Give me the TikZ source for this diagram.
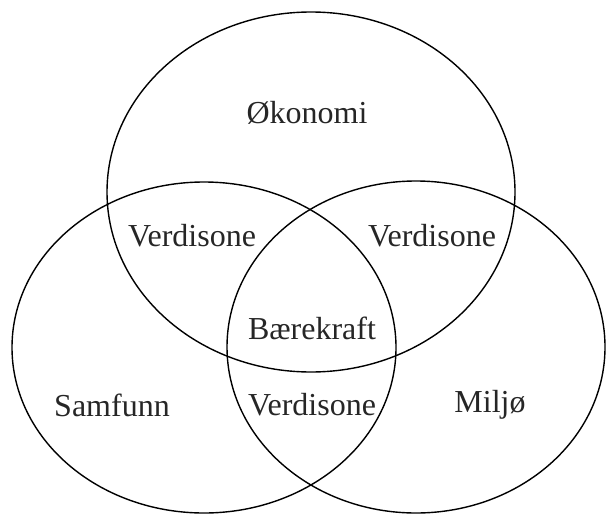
\documentclass[tikz,border=0pt]{standalone}
\usepackage{fontspec}
\setmainfont{Liberation Serif}
\begin{document}
\begin{tikzpicture}[x=1pt,y=-1pt,
  ring/.style={draw=black,line width=1.4pt},
  lbl/.style={font=\fontsize{32}{36}\selectfont,text=black!85,inner sep=0pt}]
\useasboundingbox (0,0) rectangle (607,516);
\draw[ring] (311,192) ellipse [x radius=204, y radius=180];
\draw[ring] (204,347.5) ellipse [x radius=192, y radius=165.5];
\draw[ring] (416,347) ellipse [x radius=189, y radius=166];
\node[lbl] (oko) at (307,113) {Økonomi};
\node[lbl] (v1) at (192,236) {Verdisone};
\node[lbl] (v2) at (432,236) {Verdisone};
\node[lbl] (bae) at (312,328) {Bærekraft};
\node[lbl] (sam) at (112,405) {Samfunn};
\node[lbl] (v3) at (312,405) {Verdisone};
\node[lbl] (mil) at (490,405) {Miljø};
\end{tikzpicture}
\end{document}
